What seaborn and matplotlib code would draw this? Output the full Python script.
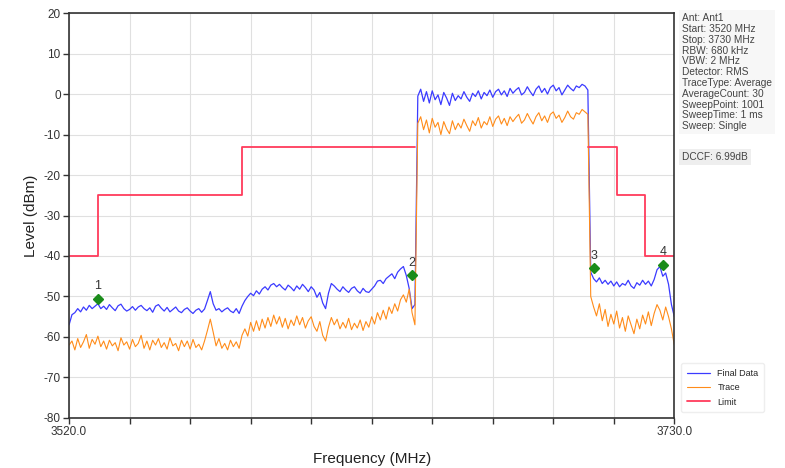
import matplotlib
matplotlib.use("Agg")
import matplotlib.pyplot as plt
import numpy as np
import seaborn as sns

# sweep 3520..3730 MHz, one value per MHz
freq_start = 3520
freq_stop = 3730

final_data = [
    -57.0, -54.5, -54.0, -53.0, -53.8, -52.6, -53.4, -52.2, -53.0, -52.4,
    -51.8, -53.0, -52.4, -53.2, -52.0, -52.8, -53.5, -52.3, -51.9, -53.0,
    -53.6, -53.2, -52.5, -53.4, -52.6, -52.2, -53.0, -53.5, -52.8, -53.9,
    -52.4, -52.0, -52.9, -53.6, -52.7, -53.8, -53.2, -52.6, -53.6, -54.0,
    -53.2, -52.8, -53.6, -54.2, -53.4, -53.0, -53.9, -53.1, -51.0, -48.8,
    -51.8, -53.4, -53.0, -53.8, -53.2, -52.8, -53.6, -54.0, -53.0, -54.2,
    -52.4, -51.0, -50.0, -49.2, -49.8, -48.6, -49.4, -48.2, -47.6, -48.4,
    -47.2, -46.8, -47.6, -47.0, -47.8, -48.4, -47.2, -47.8, -48.6, -47.4,
    -48.2, -47.0, -47.8, -48.8, -47.6, -48.4, -50.2, -49.0, -51.6, -53.0,
    -49.2, -46.8, -47.4, -48.2, -48.8, -47.6, -48.4, -49.0, -48.0, -47.6,
    -48.6, -49.2, -48.0, -48.8, -49.0, -48.2, -47.4, -46.2, -46.0, -46.8,
    -45.6, -45.0, -44.4, -45.6, -44.0, -43.2, -42.6, -44.8, -48.0, -53.0,
    -52.0, -0.5, 1.2, -1.8, 0.6, -2.2, 0.8, -1.4, -0.2, -2.6,
    0.4, -1.0, -2.8, 0.2, -1.6, -0.4, -1.2, 0.6, -0.8, -1.8,
    0.2, -0.6, 0.8, -1.2, 0.4, -0.4, 1.0, -0.8, 0.6, 1.2,
    -0.2, 0.8, -0.6, 1.4, 0.2, 1.0, 1.6, -0.2, 0.4, 1.8,
    0.6, -0.4, 1.2, 2.0, 0.4, 1.4, 0.0, 1.6, 2.2, 0.8,
    1.6, -0.2, 1.0, 2.2, 1.4, 0.8, 2.0, 1.6, 2.4, 2.0,
    1.0, -44.0, -45.6, -46.4, -45.4, -46.8, -46.0, -47.0, -46.2, -47.4,
    -46.4, -47.6, -46.8, -47.2, -46.0, -47.4, -48.0, -46.6, -47.2, -46.0,
    -47.0, -46.2, -47.4, -45.8, -43.4, -42.6, -45.0, -44.2, -47.0, -52.0,
    -55.0,
]

trace = [
    -62.0, -61.0, -63.2, -60.4, -62.6, -61.2, -59.4, -62.8, -60.6, -61.8,
    -59.8, -62.4, -61.0, -63.0, -60.8, -62.2, -61.4, -63.4, -60.2, -62.0,
    -61.2, -63.0, -60.6, -62.4, -61.6, -59.6, -62.8, -61.0, -63.2, -60.8,
    -62.0, -60.4, -62.6, -61.4, -63.0, -60.2, -62.2, -61.6, -63.4, -60.8,
    -62.4, -61.0, -63.0, -60.6, -62.6, -61.8, -63.2, -61.0, -58.4, -55.6,
    -58.8, -62.2, -60.4, -62.8, -61.6, -63.2, -60.8, -62.4, -61.2, -62.8,
    -59.6, -58.0, -59.8, -56.4, -58.6, -56.0, -58.4, -55.6, -57.8, -55.2,
    -57.4, -54.6, -56.8, -55.0, -57.6, -55.4, -58.0, -55.8, -57.2, -54.8,
    -57.0, -55.2, -57.8, -56.0, -55.0, -57.4, -58.6, -56.2, -59.6, -61.0,
    -57.6, -55.2, -57.0, -55.6, -58.0, -56.4, -57.8, -55.4, -58.2, -56.6,
    -57.8, -55.8, -58.4, -56.2, -57.6, -55.0, -56.8, -54.0, -55.8, -53.4,
    -55.6, -52.6, -54.2, -51.8, -53.6, -50.8, -49.6, -51.4, -48.2, -54.0,
    -57.0, -7.2, -5.6, -8.8, -6.4, -9.6, -6.0, -8.2, -7.0, -10.0,
    -6.8, -8.6, -9.8, -6.6, -8.8, -7.2, -8.4, -6.2, -7.8, -9.2,
    -6.6, -7.8, -5.8, -8.4, -6.8, -7.6, -5.6, -8.0, -6.2, -5.4,
    -7.4, -6.0, -7.8, -5.6, -6.8, -5.8, -5.0, -7.2, -6.4, -4.8,
    -6.2, -7.4, -5.6, -4.6, -6.6, -5.4, -7.0, -5.0, -4.4, -6.0,
    -5.2, -7.0, -5.8, -4.2, -5.6, -6.2, -4.6, -5.0, -3.8, -4.4,
    -5.0, -50.0, -52.6, -54.8, -51.8, -56.0, -53.2, -57.4, -54.4, -56.8,
    -53.6, -57.8, -55.2, -58.6, -54.8, -57.0, -59.2, -55.6, -58.0, -54.6,
    -56.8, -53.8, -57.2, -54.2, -52.0, -53.4, -55.8, -52.6, -55.0, -58.0,
    -62.0,
]

# limit mask segments
limit_start = [3520, 3530, 3580, 3700, 3710, 3720]
limit_stop = [3530, 3580, 3640, 3710, 3720, 3730]
limit_level = [-40, -25, -13, -13, -25, -40]

marker_freq = [3530, 3639, 3702, 3726]
marker_level = [-50.5, -44.7, -43.0, -42.2]
marker_names = ["1", "2", "3", "4"]

info_lines = ["Ant: Ant1", "Start: 3520 MHz", "Stop: 3730 MHz", "RBW: 680 kHz",
              "VBW: 2 MHz", "Detector: RMS", "TraceType: Average", "AverageCount: 30",
              "SweepPoint: 1001", "SweepTime: 1 ms", "Sweep: Single"]
dccf_text = "DCCF: 6.99dB"

sns.set_theme(style="whitegrid")
plt.rcParams["font.family"] = ["Liberation Sans", "DejaVu Sans"]
plt.rcParams["axes.unicode_minus"] = False

freq = np.arange(freq_start, freq_stop + 1)

fig = plt.figure(figsize=(7.85, 4.68), dpi=100)
ax = fig.add_axes([0.088, 0.107, 0.771, 0.865])

sns.lineplot(x=freq, y=final_data, ax=ax, color="#3b3bff", lw=0.9, label="Final Data",
             estimator=None, sort=False)
sns.lineplot(x=freq, y=trace, ax=ax, color="#ff8c1a", lw=0.8, label="Trace",
             estimator=None, sort=False)

# build the limit path: steps joined vertically, gap over the carrier
lim_x, lim_y = [], []
for i in range(len(limit_start)):
    if i > 0 and limit_start[i] != limit_stop[i - 1]:
        lim_x.append(np.nan)
        lim_y.append(np.nan)
    lim_x += [limit_start[i], limit_stop[i]]
    lim_y += [limit_level[i], limit_level[i]]
ax.plot(lim_x, lim_y, color="#ff3b5c", lw=1.3, label="Limit")

ax.plot(marker_freq, marker_level, "D", color="#1a8c1a", ms=5, ls="none")
for f, lv, name in zip(marker_freq, marker_level, marker_names):
    ax.text(f, lv + 1.6, name, ha="center", va="bottom", fontsize=9, color="#333333")

ax.set_xlim(freq_start, freq_stop)
ax.set_ylim(-80, 20)
xt = np.arange(freq_start, freq_stop + 1, 21)
ax.set_xticks(xt)
ax.set_xticklabels([f"{v:.1f}" if v in (freq_start, freq_stop) else "" for v in xt])
ax.set_yticks(np.arange(-80, 21, 10))
ax.tick_params(axis="both", direction="out", length=4, width=1, color="#333333",
               labelsize=8.5, labelcolor="#333333", bottom=True, left=True, pad=2)
ax.grid(color="#e0e0e0", lw=0.8)
for sp in ax.spines.values():
    sp.set_color("#333333")
    sp.set_linewidth(1.2)

ax.set_xlabel("Frequency (MHz)", fontsize=11, color="#222222", labelpad=10)
ax.set_ylabel("Level (dBm)", fontsize=11, color="#222222", labelpad=4)

ax.get_legend().remove()
handles, labels = ax.get_legend_handles_labels()
fig.legend(handles, labels, loc="lower left", bbox_to_anchor=(0.862, 0.11),
           fontsize=6.5, frameon=True, framealpha=1, edgecolor="#eeeeee",
           handlelength=2.6, labelspacing=0.6, borderpad=0.6)

fig.text(0.869, 0.972, "\n".join(info_lines), ha="left", va="top", fontsize=7.3,
         color="#444444", linespacing=1.1,
         bbox=dict(facecolor="#f7f7f7", edgecolor="none", pad=2))
fig.text(0.869, 0.665, dccf_text, ha="left", va="center", fontsize=7.3, color="#444444",
         bbox=dict(facecolor="#eeeeee", edgecolor="none", pad=2))

fig.savefig("out.png", dpi=100)
